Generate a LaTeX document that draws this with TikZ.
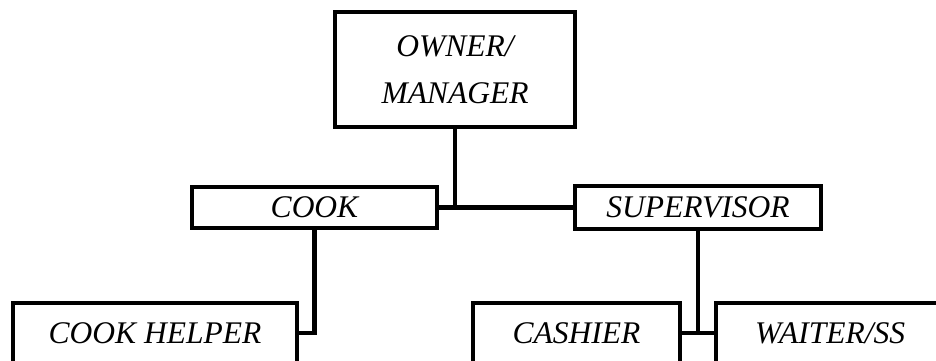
\documentclass[tikz,border=0pt]{standalone}
\usepackage{fontspec}
\setmainfont{Liberation Serif}
\begin{document}
\begin{tikzpicture}[x=1pt,y=-1pt,
  box/.style={draw, line width=4.5pt, inner sep=0pt, align=center,
    font=\fontsize{31.5}{47}\selectfont\itshape},
  link/.style={line width=4.5pt}]
\useasboundingbox (0,0) rectangle (936,360);
\clip (0,0) rectangle (936,360);
\node[box, minimum width=240pt, minimum height=115pt] (owner) at (455,69.5) {OWNER/\\MANAGER};
\node[box, minimum width=245pt, minimum height=41pt] (cook) at (314.5,207.5) {COOK};
\node[box, minimum width=246pt, minimum height=43pt] (sup) at (698,207.5) {SUPERVISOR};
\node[box, minimum width=284pt, minimum height=60pt] (helper) at (155,333) {COOK HELPER};
\node[box, minimum width=207pt, minimum height=60pt] (cashier) at (576.5,333) {CASHIER};
\node[box, minimum width=228pt, minimum height=60pt] (waiter) at (830,333) {WAITER/SS};
\draw[link] (owner.south) -- (owner.south |- cook.east);
\draw[link] (cook.east) -- (sup.west);
\draw[link] (cook.south) |- (helper.east);
\draw[link] (sup.south) -- (sup.south |- cashier.east);
\draw[link] (cashier.east) -- (waiter.west);
\end{tikzpicture}
\end{document}
